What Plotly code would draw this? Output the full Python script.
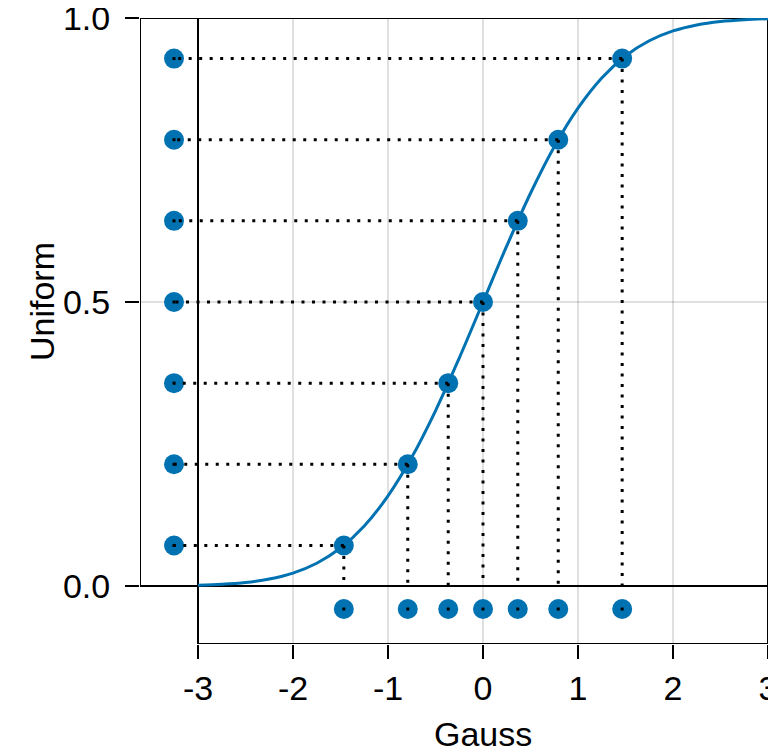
"""Gauss vs uniform quantile mapping through the normal CDF."""

import plotly.graph_objects as go

# Sample points: Gaussian quantiles and their uniform counterparts
gauss_x = [-1.465, -0.792, -0.366, 0.0, 0.366, 0.792, 1.465]
uniform_y = [0.0714, 0.2143, 0.3571, 0.5, 0.6429, 0.7857, 0.9286]

# Normal CDF curve
cdf_x = [-3.0, -2.75, -2.5, -2.25, -2.0, -1.75, -1.5, -1.25, -1.0, -0.75, -0.5, -0.25,
         0.0, 0.25, 0.5, 0.75, 1.0, 1.25, 1.5, 1.75, 2.0, 2.25, 2.5, 2.75, 3.0]
cdf_y = [0.0013, 0.0030, 0.0062, 0.0122, 0.0228, 0.0401, 0.0668, 0.1056, 0.1587, 0.2266,
         0.3085, 0.4013, 0.5, 0.5987, 0.6915, 0.7734, 0.8413, 0.8944, 0.9332, 0.9599,
         0.9772, 0.9878, 0.9938, 0.9970, 0.9987]

x_ticks = [-3, -2, -1, 0, 1, 2, 3]
x_ticktext = ["-3", "-2", "-1", "0", "1", "2", "3"]
y_ticks = [0.0, 0.5, 1.0]
y_ticktext = ["0.0", "0.5", "1.0"]

# Layout constants for the marginal strips
LEFT_STRIP = -3.6105   # left edge of the left marginal strip
LEFT_RUG = -3.2526     # x of the left rug dots
BOTTOM_STRIP = -0.1021  # bottom edge of the bottom marginal strip
BOTTOM_RUG = -0.0405   # y of the bottom rug dots

BLUE = "#0072B2"
FONT = "Liberation Sans"
FSIZE = 34

fig = go.Figure()

# CDF curve
fig.add_trace(go.Scatter(
    x=cdf_x, y=cdf_y, mode="lines",
    line=dict(color=BLUE, width=3, shape="spline"),
    hoverinfo="skip",
))

# Points on curve and rug points
n = len(gauss_x)
fig.add_trace(go.Scatter(
    x=gauss_x + [LEFT_RUG] * n + gauss_x,
    y=uniform_y + uniform_y + [BOTTOM_RUG] * n,
    mode="markers",
    marker=dict(color=BLUE, size=20),
))

# Dotted connectors
hx, hy, vx, vy = [], [], [], []
for gx, uy in zip(gauss_x, uniform_y):
    hx += [gx, LEFT_RUG, None]
    hy += [uy, uy, None]
    vx += [gx, gx, None]
    vy += [uy, 0.0, None]
dot_line = dict(color="black", width=3, dash="3px,7.5px")
fig.add_trace(go.Scatter(x=hx, y=hy, mode="lines", line=dot_line))
fig.add_trace(go.Scatter(x=vx, y=vy, mode="lines", line=dot_line))

# Small centre dots on the rugs
fig.add_trace(go.Scatter(
    x=[LEFT_RUG] * n + gauss_x,
    y=uniform_y + [BOTTOM_RUG] * n,
    mode="markers",
    marker=dict(color="black", size=3, symbol="square"),
))

# Spines of the main box and the two marginal strips
spine = dict(color="black", width=2)
segments = [
    (LEFT_STRIP, 1.0, 3.0, 1.0),
    (LEFT_STRIP, 0.0, 3.0, 0.0),
    (-3.0, BOTTOM_STRIP, 3.0, BOTTOM_STRIP),
    (LEFT_STRIP, 0.0, LEFT_STRIP, 1.0),
    (-3.0, BOTTOM_STRIP, -3.0, 1.0),
    (3.0, BOTTOM_STRIP, 3.0, 1.0),
]
for x0, y0, x1, y1 in segments:
    fig.add_shape(type="line", x0=x0, y0=y0, x1=x1, y1=y1,
                  xref="x", yref="y", line=spine, layer="between")

fig.add_annotation(text="Gauss", x=0, xref="x", y=-0.1438, yref="paper",
                   showarrow=False, xanchor="center", yanchor="middle",
                   font=dict(family=FONT, size=FSIZE, color="black"))
fig.add_annotation(text="Uniform", x=-0.156, xref="paper", y=0.5, yref="y",
                   showarrow=False, textangle=-90, xanchor="center", yanchor="middle",
                   font=dict(family=FONT, size=FSIZE, color="black"))

# the page body adds an 8px margin, so the figure is 8px smaller on each axis
fig.update_layout(
    width=768,
    height=748,
    margin=dict(l=132, r=8, t=10, b=112, autoexpand=False),
    paper_bgcolor="white",
    plot_bgcolor="white",
    showlegend=False,
    font=dict(family=FONT, size=FSIZE, color="black"),
    xaxis=dict(
        range=[LEFT_STRIP, 3.0], tickvals=x_ticks, ticktext=x_ticktext,
        ticks="outside", ticklen=14, tickwidth=2, tickcolor="black",
        ticklabelstandoff=0, ticklabeloverflow="allow", automargin=False,
        showgrid=True, gridcolor="rgba(0,0,0,0.12)", gridwidth=2,
        zeroline=False, showline=False,
    ),
    yaxis=dict(
        range=[BOTTOM_STRIP, 1.0], tickvals=y_ticks, ticktext=y_ticktext,
        ticks="outside", ticklen=14, tickwidth=2, tickcolor="black",
        ticklabelstandoff=8, ticklabeloverflow="allow", automargin=False,
        showgrid=True, gridcolor="rgba(0,0,0,0.12)", gridwidth=2,
        zeroline=False, showline=False,
    ),
)

fig.write_html("out.html")
